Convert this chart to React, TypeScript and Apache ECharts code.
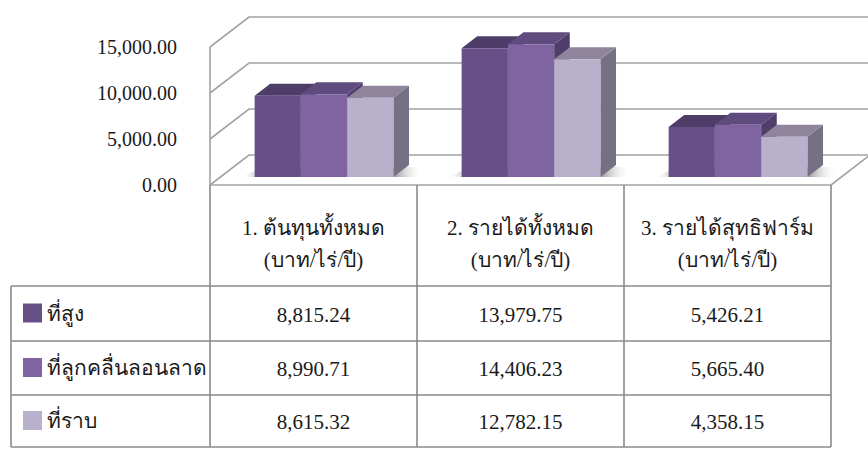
import React, { useEffect, useRef } from "react";
import * as echarts from "echarts";

// ---- data ----
const categories = ["1. ต้นทุนทั้งหมด", "2. รายได้ทั้งหมด", "3. รายได้สุทธิฟาร์ม"];
const unitLabel = "(บาท/ไร่/ปี)";
const seriesNames = ["ที่สูง", "ที่ลูกคลื่นลอนลาด", "ที่ราบ"];
const highland = [8815.24, 13979.75, 5426.21];
const undulating = [8990.71, 14406.23, 5665.4];
const lowland = [8615.32, 12782.15, 4358.15];
const yTicks = [0, 5000, 10000, 15000];
const yMax = 15000;
const yInterval = 5000;

const seriesData = [highland, undulating, lowland];

// ---- styles / layout ----
const FRONT = ["#674F87", "#8064A2", "#B9B0CC"];
const TOP = ["#4E3C69", "#5F4B7D", "#8E859C"];
const SIDE = ["#4A3A63", "#4F3D6A", "#767084"];
const WALL = "#A3A3A3";
const BORDER = "#8A8A8A";
const FONT = "'Liberation Serif', 'Times New Roman', serif";
const TEXT = "#1a1a1a";

const GRID = { left: 210, top: 47, right: 37, bottom: 267 };
const DX = 39;
const DY = -30;
const BAR_F0 = 0.27; // depth fraction of bar front faces
const BAR_DEPTH = 0.4; // depth fraction of bar thickness
const BAR_W = 0.2235; // bar width as fraction of category band

// table layout
const TABLE_LEFT = 11;
const HEADER_BOTTOM = 286;
const ROW_BOTTOMS = [341, 395, 447];

const fmt = (v: number) =>
  v.toLocaleString("en-US", { minimumFractionDigits: 2, maximumFractionDigits: 2 });

export default function App() {
  const ref = useRef<HTMLDivElement>(null);

  useEffect(() => {
    if (!ref.current) return;
    const chart = echarts.init(ref.current, undefined, { renderer: "svg" });

    const wallSeries = {
      type: "custom",
      z: 1,
      silent: true,
      data: [[0, 0]],
      renderItem: (params: any, api: any) => {
        const cs = params.coordSys;
        const x0 = cs.x;
        const x1 = cs.x + cs.width;
        const children: any[] = [];
        const lineStyle = { stroke: WALL, lineWidth: 1.6, fill: null };
        yTicks.forEach((v) => {
          const y = api.coord([0, v])[1];
          children.push({
            type: "polyline",
            shape: { points: [[x0, y], [x0 + DX, y + DY], [x1 + DX + 4, y + DY]] },
            style: lineStyle,
          });
        });
        const yTop = api.coord([0, yMax])[1];
        const yBot = api.coord([0, 0])[1];
        children.push({ type: "line", shape: { x1: x0, y1: yTop, x2: x0, y2: yBot }, style: lineStyle });
        children.push({ type: "line", shape: { x1: x0, y1: yBot, x2: x1, y2: yBot }, style: lineStyle });
        children.push({
          type: "line",
          shape: { x1: x1, y1: yBot, x2: x1 + DX, y2: yBot + DY },
          style: lineStyle,
        });
        // soft shadows under each bar group
        const band = api.size([1, 0])[0];
        for (let c = 0; c < categories.length; c++) {
          const cx = api.coord([c, 0])[0];
          const gx0 = cx - 1.5 * band * BAR_W + DX * BAR_F0;
          const gx1 = cx + 1.5 * band * BAR_W + DX * BAR_F0;
          const by = yBot + DY * BAR_F0;
          const ddx = DX * BAR_DEPTH;
          const ddy = DY * BAR_DEPTH;
          children.push({
            type: "polygon",
            shape: {
              points: [
                [gx0 - 14, by],
                [gx1 + ddx + 10, by],
                [gx1 + ddx + 14, by + ddy + 2],
                [gx0 + ddx - 6, by + ddy + 2],
              ],
            },
            style: {
              fill: {
                type: "linear",
                x: 0,
                y: 0,
                x2: 1,
                y2: 0,
                colorStops: [
                  { offset: 0, color: "rgba(255,255,255,0)" },
                  { offset: 0.12, color: "rgba(90,90,90,0.55)" },
                  { offset: 0.85, color: "rgba(90,90,90,0.55)" },
                  { offset: 1, color: "rgba(255,255,255,0)" },
                ],
              },
            },
          });
        }
        return { type: "group", children };
      },
    };

    const barSeries = seriesData.map((arr, s) => ({
      type: "custom",
      name: seriesNames[s],
      z: 2,
      silent: true,
      data: arr.map((v, i) => [i, v]),
      renderItem: (params: any, api: any) => {
        const c = api.value(0);
        const v = api.value(1);
        const band = api.size([1, 0])[0];
        const bw = band * BAR_W;
        const cx = api.coord([c, 0])[0];
        const yBase = api.coord([c, 0])[1] + DY * BAR_F0;
        const yTopV = api.coord([c, v])[1] + DY * BAR_F0;
        const xl = cx - 1.5 * bw + s * bw + DX * BAR_F0;
        const xr = xl + bw;
        const ddx = DX * BAR_DEPTH;
        const ddy = DY * BAR_DEPTH;
        return {
          type: "group",
          children: [
            {
              type: "polygon",
              shape: { points: [[xr, yTopV], [xr + ddx, yTopV + ddy], [xr + ddx, yBase + ddy], [xr, yBase]] },
              style: { fill: SIDE[s] },
            },
            {
              type: "polygon",
              shape: { points: [[xl, yTopV], [xl + ddx, yTopV + ddy], [xr + ddx, yTopV + ddy], [xr, yTopV]] },
              style: { fill: TOP[s] },
            },
            {
              type: "rect",
              shape: { x: xl, y: yTopV, width: bw, height: yBase - yTopV },
              style: { fill: FRONT[s] },
            },
          ],
        };
      },
    }));

    // table cells through the category axis positions
    const tableSeries = {
      type: "custom",
      z: 3,
      silent: true,
      data: categories.map((_, i) => [i, 0]),
      renderItem: (params: any, api: any) => {
        const c = api.value(0);
        const cx = api.coord([c, 0])[0];
        const children: any[] = [];
        let prev = HEADER_BOTTOM;
        ROW_BOTTOMS.forEach((rb, r) => {
          children.push({
            type: "text",
            style: {
              x: cx,
              y: (prev + rb) / 2 + 1,
              text: fmt(seriesData[r][c]),
              align: "center",
              verticalAlign: "middle",
              font: `21px ${FONT}`,
              fill: TEXT,
            },
          });
          prev = rb;
        });
        return { type: "group", children };
      },
    };

    // table lines and legend column
    const band = (868 - GRID.left - GRID.right) / categories.length;
    const colXs = categories.map((_, i) => GRID.left + i * band).concat([868 - GRID.right]);
    const graphics: any[] = [];
    const bs = { stroke: BORDER, lineWidth: 1.6 };
    const yTop = 452 - GRID.bottom;
    const yEnd = ROW_BOTTOMS[ROW_BOTTOMS.length - 1];
    colXs.forEach((x) => {
      graphics.push({ type: "line", shape: { x1: x, y1: yTop, x2: x, y2: yEnd }, style: bs, z: 10 });
    });
    graphics.push({
      type: "line",
      shape: { x1: TABLE_LEFT, y1: HEADER_BOTTOM, x2: TABLE_LEFT, y2: yEnd },
      style: bs,
      z: 10,
    });
    [HEADER_BOTTOM, ...ROW_BOTTOMS].forEach((y) => {
      graphics.push({
        type: "line",
        shape: { x1: TABLE_LEFT, y1: y, x2: colXs[colXs.length - 1], y2: y },
        style: bs,
        z: 10,
      });
    });
    let prev = HEADER_BOTTOM;
    ROW_BOTTOMS.forEach((rb, r) => {
      const cy = (prev + rb) / 2;
      graphics.push({
        type: "rect",
        shape: { x: 23, y: cy - 10, width: 19, height: 19 },
        style: { fill: FRONT[r] },
        z: 10,
      });
      graphics.push({
        type: "text",
        style: {
          x: 47,
          y: cy,
          text: seriesNames[r],
          align: "left",
          verticalAlign: "middle",
          font: `21px ${FONT}`,
          fill: TEXT,
        },
        z: 10,
      });
      prev = rb;
    });

    chart.setOption({
      animation: false,
      backgroundColor: "#ffffff",
      grid: { left: GRID.left, top: GRID.top, right: GRID.right, bottom: GRID.bottom },
      xAxis: {
        type: "category",
        data: categories,
        axisLine: { show: false },
        axisTick: { show: false },
        axisLabel: {
          margin: 27,
          interval: 0,
          formatter: (v: string) => `${v}\n${unitLabel}`,
          fontFamily: FONT,
          fontSize: 21,
          lineHeight: 32,
          color: TEXT,
        },
      },
      yAxis: {
        type: "value",
        min: 0,
        max: yMax,
        interval: yInterval,
        axisLine: { show: false },
        axisTick: { show: false },
        splitLine: { show: false },
        axisLabel: {
          margin: 33,
          formatter: (v: number) => fmt(v),
          fontFamily: FONT,
          fontSize: 20,
          color: TEXT,
          padding: [6, 0, 0, 0],
        },
      },
      graphic: graphics,
      series: [wallSeries, ...barSeries, tableSeries],
    });

    return () => chart.dispose();
  }, []);

  return (
    <div
      ref={ref}
      style={{ position: "absolute", left: 0, top: 0, width: 868, height: 452 }}
    />
  );
}
